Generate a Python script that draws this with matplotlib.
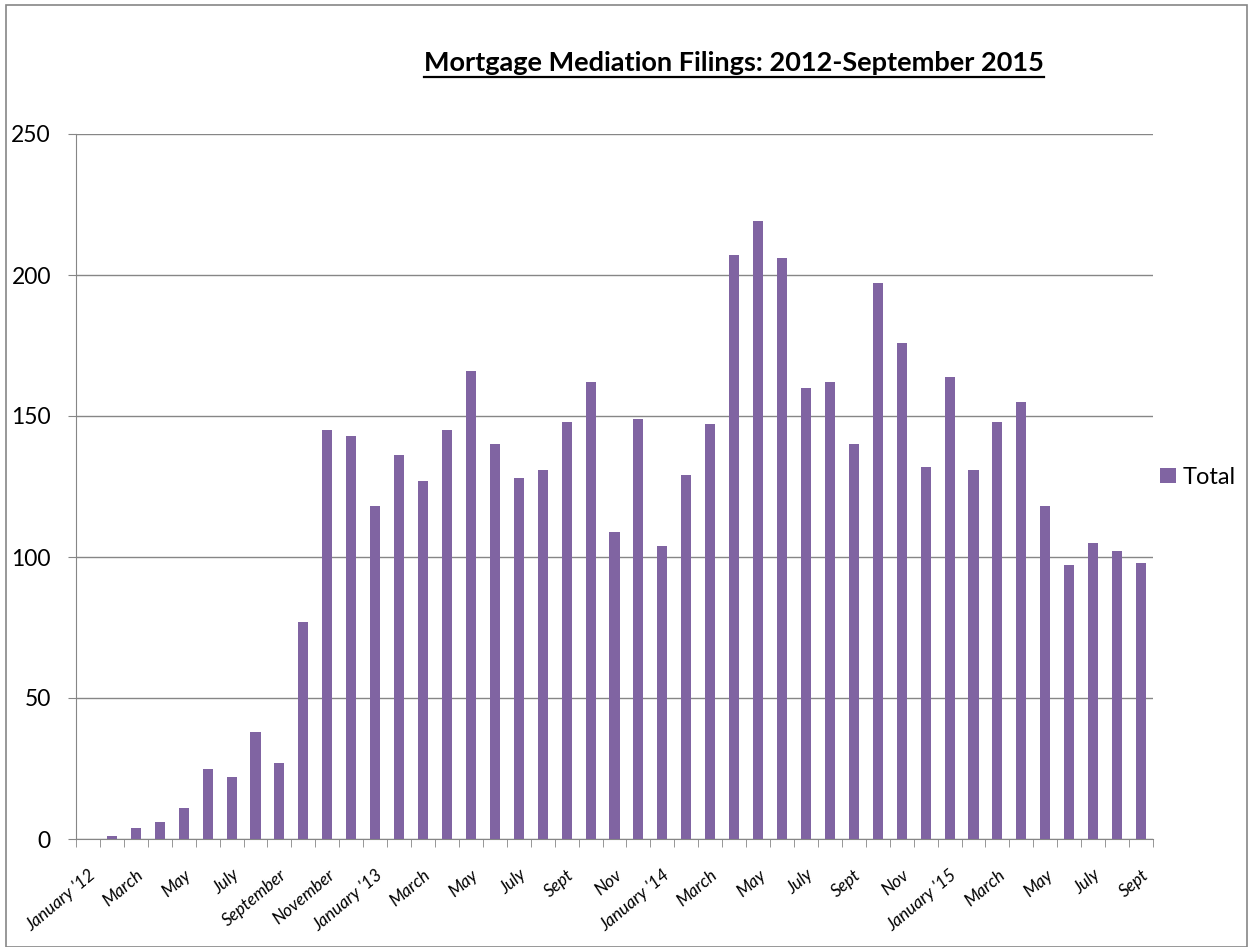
import matplotlib.pyplot as plt
import numpy as np
from matplotlib.lines import Line2D
from matplotlib.patches import Rectangle

plt.rcParams['font.family'] = ['Lato', 'DejaVu Sans']

# monthly filings, January 2012 - September 2015
values_2012 = [0, 1, 4, 6, 11, 25, 22, 38, 27, 77, 145, 143]
values_2013 = [118, 136, 127, 145, 166, 140, 128, 131, 148, 162, 109, 149]
values_2014 = [104, 129, 147, 207, 219, 206, 160, 162, 140, 197, 176, 132]
values_2015 = [164, 131, 148, 155, 118, 97, 105, 102, 98]
totals = values_2012 + values_2013 + values_2014 + values_2015

tick_labels = ["January '12", 'March', 'May', 'July', 'September', 'November',
               "January '13", 'March', 'May', 'July', 'Sept', 'Nov',
               "January '14", 'March', 'May', 'July', 'Sept', 'Nov',
               "January '15", 'March', 'May', 'July', 'Sept']

purple = '#8064A2'
grey = '#868686'

fig = plt.figure(figsize=(12.53, 9.47), dpi=100)
ax = fig.add_axes([76 / 1253, 1 - 839 / 947, (1153 - 76) / 1253, (839 - 134) / 947])

x = np.arange(len(totals))
ax.bar(x, totals, width=0.42, color=purple, label='Total', zorder=3)

ax.set_xlim(-0.5, len(totals) - 0.5)
ax.set_ylim(0, 250)
ax.set_yticks(range(0, 251, 50))
ax.tick_params(axis='y', labelsize=16.5, length=6, color=grey, pad=12)
ax.yaxis.grid(True, color=grey, linewidth=1, zorder=0)

ax.set_xticks(x[::2])
ax.set_xticklabels(tick_labels, rotation=40, ha='right', rotation_mode='anchor',
                   fontsize=12.5, style='italic')
ax.set_xticks(np.arange(len(totals) + 1) - 0.5, minor=True)
ax.tick_params(axis='x', which='major', length=0, pad=20)
ax.tick_params(axis='x', which='minor', length=6, color=grey)

for side in ['top', 'right']:
    ax.spines[side].set_visible(False)
for side in ['left', 'bottom']:
    ax.spines[side].set_color(grey)

ax.legend(loc='center left', bbox_to_anchor=(0.998, 0.513), frameon=False,
          fontsize=17, handlelength=0.65, handleheight=0.65, handletextpad=0.3,
          borderaxespad=0)

title = fig.text(734 / 1253, 1 - 63 / 947, 'Mortgage Mediation Filings: 2012-September 2015',
                 ha='center', va='center', fontsize=19.5, fontweight='bold')

# underline the title
fig.canvas.draw()
bb = title.get_window_extent().transformed(fig.transFigure.inverted())
fig.add_artist(Line2D([bb.x0, bb.x1], [bb.y0 - 0.002, bb.y0 - 0.002],
                      transform=fig.transFigure, color='black', linewidth=1.6))

# outer frame
fig.add_artist(Rectangle((0.005, 0.0), 0.99, 0.995, transform=fig.transFigure,
                         fill=False, edgecolor=grey, linewidth=1.2))

fig.savefig('out.png', dpi=100)
